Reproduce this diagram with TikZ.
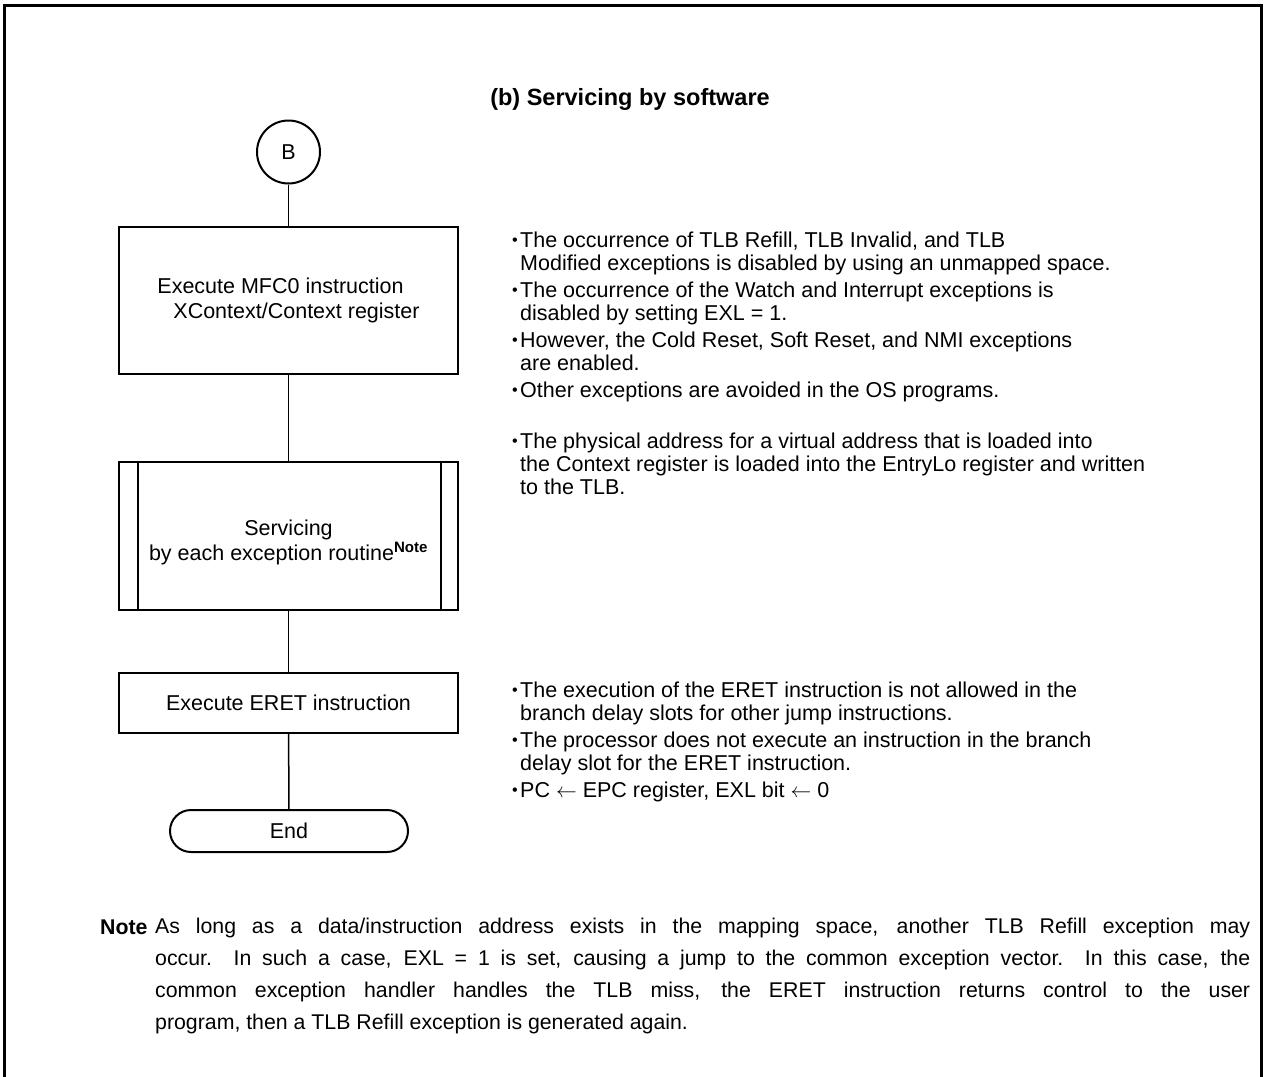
\documentclass[tikz,border=0pt]{standalone}
\usepackage{fontspec}
\setmainfont{Liberation Sans}
\usepackage{graphicx}
\newcommand\bul{\makebox[8pt][l]{\raisebox{1.5pt}{\scalebox{0.75}{•}}}}
\newcommand\ind{\hspace*{8pt}}
\newcommand\jline[1]{\makebox[1095pt][s]{#1}}
\begin{document}
\begin{tikzpicture}[x=1pt,y=-1pt,
  box/.style={draw, line width=2pt, minimum width=339pt, inner sep=0pt},
  conn/.style={line width=1.5pt},
  body/.style={font=\fontsize{21.5}{25}\selectfont},
  bl/.style={anchor=base west, align=left, inner sep=0pt, font=\fontsize{21.5}{23}\selectfont}]
\useasboundingbox (0,0) rectangle (1265,1076);
\draw[line width=3pt] (4,1080) -- (4,5) -- (1261,5) -- (1261,1080);
\node[font=\bfseries\fontsize{23.5}{26}\selectfont] (title) at (630,99) {(b) Servicing by software};
% flow
\node[draw, circle, line width=2pt, minimum size=63pt, inner sep=0pt, body] (B) at (288.5,152) {B};
\node[box, minimum height=147pt, align=left, body] (mfc) at (288.5,300.5) {Execute MFC0 instruction\\\hspace*{16pt}XContext/Context register};
\node[box, minimum height=148pt] (svc) at (288.5,536) {};
\draw[line width=1.5pt] ([xshift=20pt]svc.north west) -- ([xshift=20pt]svc.south west);
\draw[line width=1.5pt] ([xshift=-18pt]svc.north east) -- ([xshift=-18pt]svc.south east);
\node[body, align=center, inner sep=0pt] (svctext) at (288.5,542) {Servicing\\by each exception routine\textsuperscript{\bfseries Note}};
\node[box, minimum height=60pt, body] (eret) at (288.5,703) {Execute ERET instruction};
\node[draw, line width=2pt, rounded corners=21pt, minimum width=238pt, minimum height=42pt, body] (end) at (289,831) {End};
\draw[conn] (B) -- (mfc);
\draw[conn] (mfc) -- (svc);
\draw[conn] (svc) -- (eret);
\draw[conn] (eret) -- (end);
% right notes (base anchor = baseline of last line)
\node[bl] (n1) at (512,270) {\bul The occurrence of TLB Refill, TLB Invalid, and TLB\\\ind Modified exceptions is disabled by using an unmapped space.};
\node[bl] (n2) at (512,320) {\bul The occurrence of the Watch and Interrupt exceptions is\\\ind disabled by setting EXL = 1.};
\node[bl] (n3) at (512,370) {\bul However, the Cold Reset, Soft Reset, and NMI exceptions\\\ind are enabled.};
\node[bl] (n4) at (512,397) {\bul Other exceptions are avoided in the OS programs.};
\node[bl] (n5) at (512,494) {\bul The physical address for a virtual address that is loaded into\\\ind the Context register is loaded into the EntryLo register and written\\\ind to the TLB.};
\node[bl] (n6) at (512,720) {\bul The execution of the ERET instruction is not allowed in the\\\ind branch delay slots for other jump instructions.};
\node[bl] (n7) at (512,770) {\bul The processor does not execute an instruction in the branch\\\ind delay slot for the ERET instruction.};
\node[bl] (n8) at (512,797) {\bul PC $\leftarrow$ EPC register, EXL bit $\leftarrow$ 0};
% note
\node[anchor=base west, inner sep=0pt, font=\bfseries\fontsize{21.3}{24}\selectfont] (notelbl) at (100,934) {Note};
\node[anchor=base west, inner sep=0pt, align=left, font=\fontsize{21.3}{31.7}\selectfont] (notetxt) at (155,1029) {%
\jline{As long as a data/instruction address exists in the mapping space, another TLB Refill exception may}\\
\jline{occur.\ \ In such a case, EXL = 1 is set, causing a jump to the common exception vector.\ \ In this case, the}\\
\jline{common exception handler handles the TLB miss, the ERET instruction returns control to the user}\\
program, then a TLB Refill exception is generated again.};
\end{tikzpicture}
\end{document}
